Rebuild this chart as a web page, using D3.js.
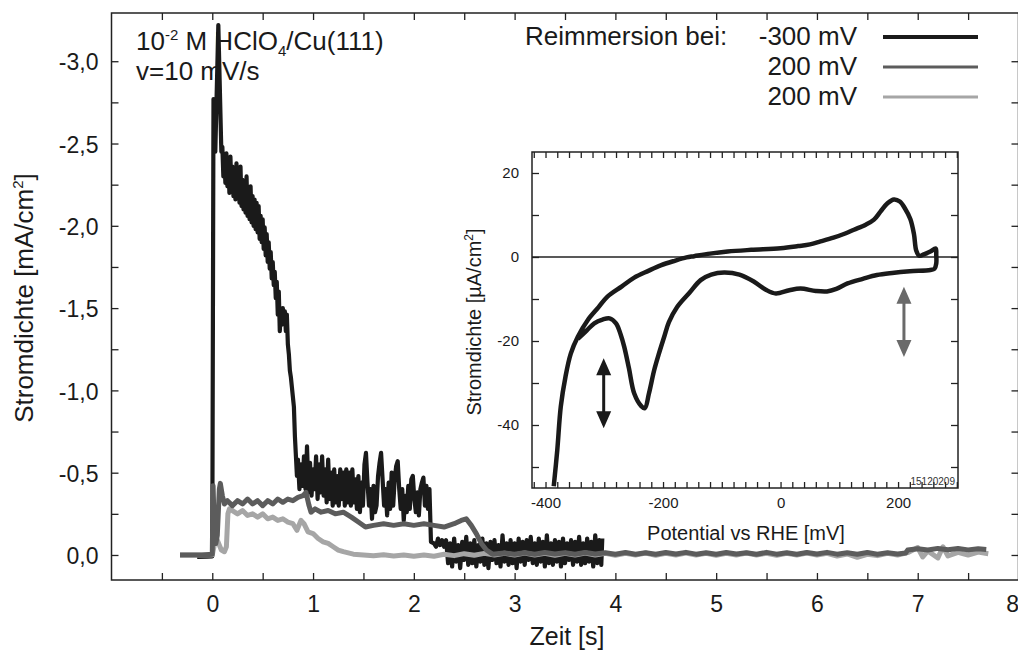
<!DOCTYPE html>
<html>
<head>
<meta charset="utf-8">
<script src="https://cdn.jsdelivr.net/npm/d3@7"></script>
<style>
  html, body { margin: 0; padding: 0; background: #fff; }
  svg { display: block; font-family: "Liberation Sans", Arial, sans-serif; }
</style>
</head>
<body>
<svg id="chart" width="1018" height="652"></svg>
<script>

// ---- Data: current transients [time s, current mA/cm2] ----
const blackTrace = [
  [-0.15,0.012],[-0.05,0.01],[0.0,0.008],[0.012,-2.77],[0.03,-2.45],[0.06,-3.22],[0.09,-2.45],
  [0.10,-2.48],[0.11,-2.30],[0.12,-2.42],[0.13,-2.26],[0.14,-2.44],[0.15,-2.24],[0.16,-2.38],
  [0.17,-2.20],[0.18,-2.42],[0.19,-2.22],[0.20,-2.36],[0.21,-2.18],[0.22,-2.34],[0.23,-2.16],
  [0.24,-2.38],[0.25,-2.18],[0.26,-2.30],[0.27,-2.14],[0.28,-2.36],[0.29,-2.12],[0.30,-2.28],
  [0.31,-2.10],[0.32,-2.26],[0.33,-2.08],[0.34,-2.30],[0.35,-2.06],[0.36,-2.22],[0.37,-2.04],
  [0.38,-2.24],[0.39,-2.02],[0.40,-2.18],[0.41,-2.00],[0.42,-2.16],[0.43,-1.98],[0.44,-2.14],
  [0.45,-1.96],[0.46,-2.12],[0.47,-1.92],[0.48,-2.06],[0.49,-1.90],[0.50,-2.04],[0.51,-1.86],
  [0.52,-1.99],[0.53,-1.82],[0.54,-1.95],[0.55,-1.78],[0.56,-1.90],[0.57,-1.74],[0.58,-1.84],
  [0.59,-1.68],[0.60,-1.78],[0.61,-1.64],[0.62,-1.72],[0.63,-1.56],[0.64,-1.66],[0.65,-1.46],
  [0.66,-1.60],[0.67,-1.36],[0.68,-1.48],[0.69,-1.40],[0.70,-1.50],[0.71,-1.42],[0.72,-1.48],
  [0.73,-1.36],[0.74,-1.46],[0.75,-1.28],[0.76,-1.22],[0.77,-1.12],[0.78,-1.08],[0.79,-1.02],
  [0.80,-0.96],[0.81,-0.90],[0.82,-0.72],[0.83,-0.60],[0.84,-0.48],
  [0.85,-0.58],[0.865,-0.40],[0.88,-0.55],[0.895,-0.42],[0.91,-0.60],[0.925,-0.40],[0.94,-0.66],
  [0.955,-0.38],[0.97,-0.56],[0.985,-0.36],[1.0,-0.52],[1.015,-0.40],[1.03,-0.60],[1.045,-0.34],
  [1.06,-0.55],[1.075,-0.38],[1.09,-0.60],[1.105,-0.36],[1.12,-0.52],[1.135,-0.32],[1.15,-0.58],
  [1.165,-0.34],[1.18,-0.50],[1.195,-0.30],[1.21,-0.52],[1.225,-0.32],[1.24,-0.48],[1.255,-0.30],
  [1.27,-0.52],[1.285,-0.34],[1.30,-0.50],[1.315,-0.30],[1.33,-0.52],[1.345,-0.32],[1.36,-0.50],
  [1.375,-0.30],[1.39,-0.52],[1.405,-0.32],[1.42,-0.46],[1.435,-0.28],[1.45,-0.48],[1.465,-0.26],
  [1.48,-0.44],[1.495,-0.30],[1.51,-0.55],[1.525,-0.62],[1.54,-0.44],[1.555,-0.30],[1.57,-0.40],
  [1.585,-0.22],[1.60,-0.42],[1.615,-0.26],[1.63,-0.30],[1.645,-0.48],[1.66,-0.56],[1.675,-0.62],
  [1.69,-0.46],[1.705,-0.30],[1.72,-0.40],[1.735,-0.24],[1.75,-0.44],[1.765,-0.28],[1.78,-0.50],
  [1.795,-0.30],[1.81,-0.46],[1.825,-0.54],[1.84,-0.57],[1.855,-0.40],[1.87,-0.28],[1.885,-0.40],
  [1.90,-0.21],[1.915,-0.36],[1.93,-0.26],[1.945,-0.42],[1.96,-0.28],[1.975,-0.46],[1.99,-0.48],
  [2.005,-0.34],[2.02,-0.26],[2.035,-0.38],[2.05,-0.24],[2.065,-0.40],[2.08,-0.44],[2.095,-0.47],
  [2.11,-0.30],[2.125,-0.42],[2.14,-0.28],[2.155,-0.40],[2.17,-0.08],
  [2.20,-0.07],[2.22,-0.05],[2.24,-0.10],[2.26,-0.06],[2.28,-0.09],[2.30,-0.05],[2.32,-0.09],
  [2.34,0.05],[2.36,-0.07],[2.38,0.07],[2.40,-0.10],[2.42,0.04],[2.44,-0.06],[2.46,0.08],
  [2.48,-0.08],[2.50,0.03],[2.52,-0.11],[2.54,0.06],[2.56,-0.07],[2.58,0.05],[2.60,-0.09],
  [2.62,0.07],[2.64,-0.06],[2.66,0.04],[2.68,-0.10],[2.70,0.06],[2.72,-0.07],[2.74,0.08],
  [2.76,-0.08],[2.78,0.03],[2.80,-0.09],[2.82,0.05],[2.84,-0.06],[2.86,0.07],[2.88,-0.12],
  [2.90,0.04],[2.92,-0.07],[2.94,0.06],[2.96,-0.09],[2.98,0.05],[3.00,-0.07],[3.02,0.08],
  [3.04,-0.10],[3.06,0.04],[3.08,-0.08],[3.10,0.06],[3.12,-0.09],[3.14,0.03],[3.16,-0.11],
  [3.18,0.05],[3.20,-0.07],[3.22,0.06],[3.24,-0.10],[3.26,0.04],[3.28,-0.08],[3.30,0.07],
  [3.32,-0.12],[3.34,0.05],[3.36,-0.07],[3.38,0.06],[3.40,-0.09],[3.42,0.04],[3.44,-0.08],
  [3.46,0.07],[3.48,-0.10],[3.50,0.05],[3.52,-0.07],[3.54,0.03],[3.56,-0.09],[3.58,0.06],
  [3.60,-0.08],[3.62,0.04],[3.64,-0.11],[3.66,0.06],[3.68,-0.07],[3.70,0.05],[3.72,-0.10],
  [3.74,0.04],[3.76,-0.08],[3.78,0.07],[3.80,-0.12],[3.82,0.05],[3.84,-0.09],[3.86,0.06],
  [3.87,-0.10]
];

const darkTrace = [
  [-0.32,0.0],[-0.1,0.0],[0.0,-0.005],[0.008,-0.42],[0.02,-0.15],[0.035,-0.07],[0.05,-0.12],
  [0.07,-0.40],[0.08,-0.435],[0.10,-0.36],[0.12,-0.31],[0.15,-0.33],[0.2,-0.30],[0.25,-0.33],
  [0.3,-0.31],[0.35,-0.34],[0.4,-0.31],[0.45,-0.33],[0.5,-0.30],[0.55,-0.33],[0.6,-0.31],
  [0.65,-0.34],[0.7,-0.32],[0.75,-0.34],[0.8,-0.33],[0.85,-0.35],[0.9,-0.36],[0.93,-0.38],
  [0.96,-0.30],[0.98,-0.26],[1.02,-0.28],[1.08,-0.26],[1.15,-0.27],[1.22,-0.25],[1.3,-0.26],
  [1.38,-0.23],[1.45,-0.20],[1.52,-0.17],[1.6,-0.18],[1.7,-0.19],[1.8,-0.18],[1.9,-0.19],
  [2.0,-0.18],[2.1,-0.19],[2.2,-0.18],[2.3,-0.17],[2.4,-0.19],[2.47,-0.21],[2.52,-0.22],
  [2.57,-0.18],[2.62,-0.13],[2.67,-0.07],[2.72,-0.03],[2.78,-0.005],[2.9,-0.012],[3.0,-0.004],
  [3.1,-0.014],[3.2,-0.005],[3.3,-0.015],[3.4,-0.006],[3.5,-0.014],[3.6,-0.004],[3.7,-0.015],
  [3.8,-0.006],[3.9,-0.014],[4.0,-0.004],[4.1,-0.015],[4.2,-0.005],[4.3,-0.014],[4.4,-0.004],
  [4.5,-0.015],[4.6,-0.006],[4.7,-0.016],[4.8,-0.005],[4.9,-0.014],[5.0,-0.004],[5.1,-0.015],
  [5.2,-0.006],[5.3,-0.014],[5.4,-0.004],[5.5,-0.016],[5.6,-0.005],[5.7,-0.014],[5.8,-0.004],
  [5.9,-0.015],[6.0,-0.006],[6.1,-0.016],[6.2,-0.005],[6.3,-0.014],[6.4,-0.004],[6.5,-0.015],
  [6.6,-0.005],[6.7,-0.014],[6.8,-0.006],[6.88,-0.012],[6.9,-0.03],[7.0,-0.038],[7.1,-0.03],
  [7.2,-0.04],[7.3,-0.032],[7.4,-0.039],[7.5,-0.031],[7.6,-0.038],[7.68,-0.034]
];

const lightTrace = [
  [-0.32,0.0],[0.0,0.0],[0.02,-0.06],[0.05,-0.09],[0.07,-0.06],[0.09,-0.03],[0.12,-0.02],
  [0.14,-0.05],[0.155,-0.25],[0.17,-0.28],[0.2,-0.27],[0.25,-0.25],[0.3,-0.27],[0.35,-0.24],
  [0.4,-0.25],[0.45,-0.23],[0.5,-0.25],[0.55,-0.22],[0.6,-0.23],[0.65,-0.21],[0.7,-0.22],
  [0.75,-0.20],[0.8,-0.19],[0.84,-0.15],[0.88,-0.21],[0.91,-0.19],[0.95,-0.14],[1.0,-0.13],
  [1.05,-0.10],[1.1,-0.08],[1.15,-0.07],[1.2,-0.05],[1.25,-0.03],[1.3,-0.02],[1.4,-0.005],
  [1.5,0.0],[1.6,0.004],[1.7,-0.002],[1.8,0.006],[1.9,0.0],[2.0,0.008],[2.1,0.0],[2.2,0.008],
  [2.3,-0.004],[2.4,0.004],[2.5,-0.008],[2.6,0.002],[2.7,-0.01],[2.8,0.0],[2.9,-0.01],
  [3.0,0.0],[3.1,-0.012],[3.2,0.0],[3.3,-0.01],[3.4,0.002],[3.5,-0.01],[3.6,0.0],
  [3.7,-0.012],[3.8,0.0],[3.9,-0.01],[4.0,0.002],[4.1,-0.01],[4.2,0.0],[4.3,-0.012],
  [4.4,0.002],[4.5,-0.01],[4.6,0.0],[4.7,-0.012],[4.8,0.0],[4.9,-0.01],[5.0,0.002],
  [5.1,-0.01],[5.2,0.0],[5.3,-0.012],[5.4,0.0],[5.5,-0.01],[5.6,0.002],[5.7,-0.01],
  [5.8,0.0],[5.9,-0.012],[6.0,0.0],[6.1,-0.01],[6.2,0.006],[6.3,-0.006],[6.4,0.014],
  [6.5,-0.004],[6.6,0.004],[6.7,-0.01],[6.8,0.0],[6.9,-0.014],[7.0,-0.045],[7.05,0.012],
  [7.1,-0.025],[7.2,0.018],[7.25,-0.05],[7.3,0.006],[7.4,-0.016],[7.5,0.0],[7.6,-0.018],[7.7,-0.008]
];

// ---- Data: inset cyclic voltammogram [potential mV, current uA/cm2] ----
const cvCurve = [
  [-386,-54.6],[-380,-46],[-374,-35.6],[-366,-28.5],[-357,-23],[-345,-19],[-328,-15],[-310,-12],
  [-295,-9.5],[-270,-7],[-249,-4.9],[-225,-3.3],[-204,-2.0],[-180,-0.9],[-160,-0.1],[-147,0.2],
  [-120,0.8],[-90,1.3],[-50,1.7],[0,2.1],[30,2.6],[50,3.0],[68,3.7],[90,4.6],[110,5.6],
  [125,6.5],[145,7.7],[159,8.9],[170,10.8],[182,12.8],[193,13.7],[203,13.2],[212,11.5],
  [221,9.0],[227,5.5],[231,1.5],[236,0.3],[245,0.7],[255,1.3],[264,2.0],[265,0.5],[265,-1.5],
  [262,-2.8],[255,-3.1],[220,-3.4],[190,-3.8],[164,-4.3],[140,-5.2],[114,-6.3],[95,-7.6],
  [79,-8.2],[60,-8.1],[34,-7.5],[15,-7.9],[-8,-8.7],[-25,-7.8],[-45,-5.9],[-70,-4.2],[-96,-3.7],
  [-118,-4.2],[-136,-5.5],[-155,-8.5],[-176,-11.9],[-190,-15.5],[-198,-19],[-207,-23],
  [-215,-26.9],[-224,-32.5],[-231,-36],[-237,-35.5],[-249,-32.5],[-258,-26.5],[-266,-21.4],
  [-272,-18.5],[-280,-15.8],[-291,-14.6],[-303,-14.9],[-317,-15.8],[-330,-17.5],[-345,-19.5]
];

// Double arrows in the inset: potential, current from, current to
const arrowPot = [-301, 210];
const arrowFrom = [-24.1, -7.1];
const arrowTo = [-40.8, -23.8];
const arrowColors = ['#1a1a1a', '#6a6a6a'];

// Legend
const legendLabels = ['-300 mV', '200 mV', '200 mV'];
const seriesColors = ['#1a1a1a', '#5c5c5c', '#a6a6a6'];

// Ticks
const mainXTicks = d3.range(-0.5, 8.01, 0.5);
const mainYTicks = d3.range(-3.0, 0.01, 0.25);
const insetXTicks = d3.range(-420, 301, 20);
const insetYTicks = d3.range(-50, 21, 10);

// ---- Setup ----
const svg = d3.select('#chart');
const font = '"Liberation Sans", Arial, sans-serif';
const fmtComma = d => (d < 0 ? '-' : '') + Math.abs(d).toFixed(1).replace('.', ',');

const x = d3.scaleLinear().domain([-1, 8]).range([111.5, 1018.5]);
const y = d3.scaleLinear().domain([0.152, -3.293]).range([580, 13]);

svg.append('defs').append('clipPath').attr('id', 'clipMain')
  .append('rect')
  .attr('x', x.range()[0]).attr('y', y.range()[1])
  .attr('width', x.range()[1] - x.range()[0])
  .attr('height', y.range()[0] - y.range()[1]);

// Axes (ticks inward, frame drawn separately)
function styleAxis(g, size) {
  g.select('.domain').remove();
  g.selectAll('line').attr('stroke', '#222').attr('stroke-width', 1.3);
  g.selectAll('text').attr('fill', '#1a1a1a').attr('font-family', font).attr('font-size', size);
}

svg.append('g').attr('transform', `translate(0,${y.range()[0]})`)
  .call(d3.axisBottom(x).tickValues(mainXTicks).tickSizeInner(-7).tickSizeOuter(0)
    .tickPadding(16).tickFormat(d => Number.isInteger(d) ? d : ''))
  .call(g => styleAxis(g, 23))
  .call(g => g.selectAll('.tick').filter(d => d === 8).select('text').attr('text-anchor', 'end'));
svg.append('g').attr('transform', `translate(0,${y.range()[1]})`)
  .call(d3.axisTop(x).tickValues(mainXTicks).tickSizeInner(-7).tickSizeOuter(0).tickFormat(''))
  .call(g => styleAxis(g, 23));
svg.append('g').attr('transform', `translate(${x.range()[0]},0)`)
  .call(d3.axisLeft(y).tickValues(mainYTicks).tickSizeInner(-7).tickSizeOuter(0)
    .tickPadding(13).tickFormat(d => Number.isInteger(d * 2) ? fmtComma(d) : ''))
  .call(g => styleAxis(g, 23))
  .call(g => g.selectAll('text').attr('dy', '0.38em'));
svg.append('g').attr('transform', `translate(${x.range()[1]},0)`)
  .call(d3.axisRight(y).tickValues(mainYTicks).tickSizeInner(-7).tickSizeOuter(0).tickFormat(''))
  .call(g => styleAxis(g, 23));

svg.append('rect')
  .attr('x', x.range()[0]).attr('y', y.range()[1])
  .attr('width', x.range()[1] - x.range()[0])
  .attr('height', y.range()[0] - y.range()[1])
  .attr('fill', 'none').attr('stroke', '#222').attr('stroke-width', 1.5);

// Axis titles
svg.append('text')
  .attr('x', 567).attr('y', 645).attr('text-anchor', 'middle')
  .attr('font-size', 25).attr('fill', '#1a1a1a')
  .text('Zeit [s]');

const yTitle = svg.append('text')
  .attr('transform', 'translate(33,298) rotate(-90)')
  .attr('text-anchor', 'middle').attr('font-size', 26).attr('fill', '#1a1a1a');
yTitle.append('tspan').text('Stromdichte [mA/cm');
yTitle.append('tspan').attr('dy', -10).attr('font-size', 15).text('2');
yTitle.append('tspan').attr('dy', 10).text(']');

// Traces
const line = d3.line().x(d => x(d[0])).y(d => y(d[1]));
const traces = [blackTrace, lightTrace, darkTrace];
const traceColors = [seriesColors[0], seriesColors[2], seriesColors[1]];
const traceWidths = [4.2, 5, 5];
svg.append('g').attr('clip-path', 'url(#clipMain)')
  .selectAll('path').data(traces).join('path')
  .attr('d', line)
  .attr('fill', 'none')
  .attr('stroke', (d, i) => traceColors[i])
  .attr('stroke-width', (d, i) => traceWidths[i])
  .attr('stroke-linejoin', 'round');

// Annotation
const ann = svg.append('text').attr('x', 136).attr('y', 50)
  .attr('font-size', 26).attr('fill', '#1a1a1a');
ann.append('tspan').text('10');
ann.append('tspan').attr('dy', -10).attr('font-size', 15).text('-2');
ann.append('tspan').attr('dy', 10).text(' M HClO');
ann.append('tspan').attr('dy', 6).attr('font-size', 15).text('4');
ann.append('tspan').attr('dy', -6).text('/Cu(111)');
svg.append('text').attr('x', 136).attr('y', 80)
  .attr('font-size', 26).attr('fill', '#1a1a1a').text('v=10 mV/s');

// Legend
svg.append('text').attr('x', 525).attr('y', 45)
  .attr('font-size', 26).attr('fill', '#1a1a1a').text('Reimmersion bei:');
const legendY = d3.scaleLinear().domain([0, 2]).range([37, 97]);
const legend = svg.append('g').selectAll('g').data(legendLabels).join('g')
  .attr('transform', (d, i) => `translate(0,${legendY(i)})`);
legend.append('text').attr('x', 857).attr('y', 8).attr('text-anchor', 'end')
  .attr('font-size', 26).attr('fill', '#1a1a1a').text(d => d);
legend.append('line').attr('x1', 883).attr('x2', 978)
  .attr('stroke', (d, i) => seriesColors[i])
  .attr('stroke-width', (d, i) => i === 0 ? 4 : 3);

// ---- Inset: cyclic voltammogram ----
const xi = d3.scaleLinear().domain([-423, 302]).range([532, 958]);
const yi = d3.scaleLinear().domain([-55, 25]).range([488, 152]);

svg.append('rect')
  .attr('x', xi.range()[0]).attr('y', yi.range()[1])
  .attr('width', xi.range()[1] - xi.range()[0])
  .attr('height', yi.range()[0] - yi.range()[1])
  .attr('fill', '#fff');

svg.append('g').attr('transform', `translate(0,${yi.range()[0]})`)
  .call(d3.axisBottom(xi).tickValues(insetXTicks).tickSizeInner(-6).tickSizeOuter(0)
    .tickPadding(9).tickFormat(d => d % 200 === 0 ? d : ''))
  .call(g => styleAxis(g, 15));
svg.append('g').attr('transform', `translate(0,${yi.range()[1]})`)
  .call(d3.axisTop(xi).tickValues(insetXTicks).tickSizeInner(-6).tickSizeOuter(0).tickFormat(''))
  .call(g => styleAxis(g, 15));
svg.append('g').attr('transform', `translate(${xi.range()[0]},0)`)
  .call(d3.axisLeft(yi).tickValues(insetYTicks).tickSizeInner(-7).tickSizeOuter(0)
    .tickPadding(13).tickFormat(d => d % 20 === 0 ? d : ''))
  .call(g => styleAxis(g, 15));
svg.append('g').attr('transform', `translate(${xi.range()[1]},0)`)
  .call(d3.axisRight(yi).tickValues(insetYTicks).tickSizeInner(-7).tickSizeOuter(0).tickFormat(''))
  .call(g => styleAxis(g, 15));

svg.append('rect')
  .attr('x', xi.range()[0]).attr('y', yi.range()[1])
  .attr('width', xi.range()[1] - xi.range()[0])
  .attr('height', yi.range()[0] - yi.range()[1])
  .attr('fill', 'none').attr('stroke', '#222').attr('stroke-width', 1.5);

// zero line
svg.append('line')
  .attr('x1', xi.range()[0]).attr('x2', xi.range()[1])
  .attr('y1', yi(0)).attr('y2', yi(0))
  .attr('stroke', '#222').attr('stroke-width', 1.5);

svg.append('path').datum(cvCurve)
  .attr('d', d3.line().x(d => xi(d[0])).y(d => yi(d[1])).curve(d3.curveCatmullRom.alpha(0.5)))
  .attr('fill', 'none').attr('stroke', '#1a1a1a').attr('stroke-width', 4.5)
  .attr('stroke-linejoin', 'round');

// double arrows
const arrows = svg.append('g').selectAll('g').data(arrowPot).join('g');
arrows.append('line')
  .attr('x1', d => xi(d)).attr('x2', d => xi(d))
  .attr('y1', (d, i) => yi(arrowFrom[i]) + 12).attr('y2', (d, i) => yi(arrowTo[i]) - 12)
  .attr('stroke', (d, i) => arrowColors[i]).attr('stroke-width', 3);
arrows.append('path')
  .attr('d', (d, i) => {
    const cx = xi(d), t = yi(arrowFrom[i]), b = yi(arrowTo[i]);
    return `M${cx},${t} L${cx - 7.5},${t + 17} L${cx + 7.5},${t + 17} Z` +
      `M${cx},${b} L${cx - 7.5},${b - 17} L${cx + 7.5},${b - 17} Z`;
  })
  .attr('fill', (d, i) => arrowColors[i]);

// inset titles
svg.append('text')
  .attr('x', 746).attr('y', 540).attr('text-anchor', 'middle')
  .attr('font-size', 20).attr('fill', '#1a1a1a')
  .text('Potential vs RHE [mV]');
const yiTitle = svg.append('text')
  .attr('transform', 'translate(481,322) rotate(-90)')
  .attr('text-anchor', 'middle').attr('font-size', 20).attr('fill', '#1a1a1a');
yiTitle.append('tspan').text('Stromdichte [\u00b5A/cm');
yiTitle.append('tspan').attr('dy', -8).attr('font-size', 12).text('2');
yiTitle.append('tspan').attr('dy', 8).text(']');

svg.append('text')
  .attr('x', 955).attr('y', 485).attr('text-anchor', 'end')
  .attr('font-size', 10).attr('fill', '#333')
  .text('15120209');

</script>
</body>
</html>
